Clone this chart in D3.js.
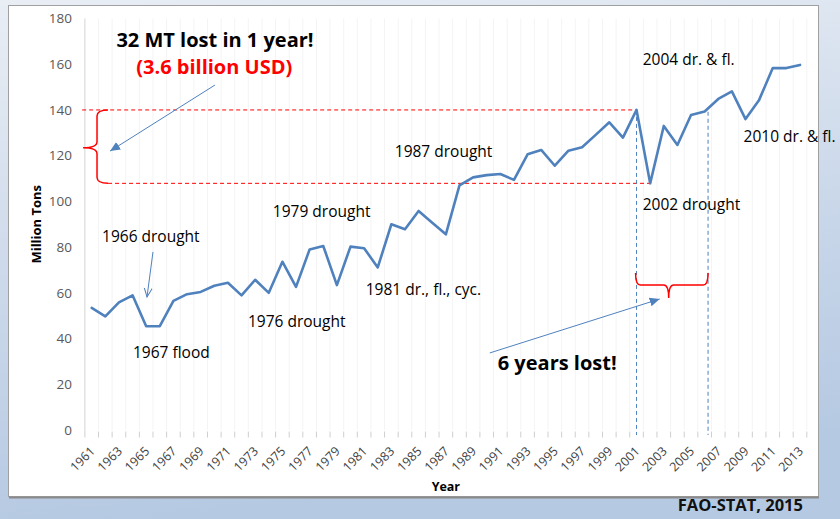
<!DOCTYPE html>
<html>
<head>
<meta charset="utf-8">
<script src="https://cdn.jsdelivr.net/npm/d3@7"></script>
<style>
  body { margin: 0; }
  svg { display: block; font-family: "Open Sans", sans-serif; }
</style>
</head>
<body>
<script>
/* DATA */
var years = d3.range(1961, 2014);
var production = [
  53.4, 49.7, 55.8, 58.9, 45.4, 45.4, 56.5, 59.4, 60.4, 63.1,
  64.4, 58.9, 65.7, 60.0, 73.6, 62.6, 79.0, 80.5, 63.4, 80.2,
  79.5, 71.1, 90.0, 87.8, 95.8, 90.7, 85.6, 107.0, 110.5, 111.5,
  112.0, 109.4, 120.6, 122.5, 115.6, 122.2, 123.7, 129.1, 134.6, 127.9,
  140.0, 107.9, 133.0, 124.7, 137.8, 139.3, 144.8, 148.1, 136.0, 144.4,
  158.3, 158.3, 159.7
];
var yTicks  = [0, 20, 40, 60, 80, 100, 120, 140, 160, 180];
var xLabels = years.filter(function(d, i){ return i % 2 === 0; });

var eventNotes = [
  { text: '1966 drought',        year: 1961.76, value: 82.2 },
  { text: '1967 flood',          year: 1964.03, value: 31.5 },
  { text: '1976 drought',        year: 1972.47, value: 45.1 },
  { text: '1979 drought',        year: 1974.30, value: 93.2 },
  { text: '1981 dr., fl., cyc.', year: 1981.12, value: 59.1 },
  { text: '1987 drought',        year: 1983.25, value: 119.4 },
  { text: '2002 drought',        year: 2001.45, value: 96.2 },
  { text: '2004 dr. & fl.',      year: 2001.45, value: 159.7 },
  { text: '2010 dr. & fl.',      year: 2008.86, value: 126.0 }
];
var lossYear     = 2001,
    dropYear     = 2002,
    recoverYear  = 2006.25,
    recoverValue = 139.2;

/* SIZES */
var w = 840, h = 519;
var c = colors = {
  line:  '#4f81bd',
  red:   '#ff0000',
  text:  '#000',
  tick:  '#595959',
  axis:  '#d9d9d9',
  grid:  '#f4f4f4'
};

var x = d3.scaleLinear().domain([1961, 2013]).range([91.7, 800]);
var y = d3.scaleLinear().domain([0, 180]).range([430, 18.5]);

var svg = d3.select('body').append('svg')
  .attr('width', w)
  .attr('height', h);

/* BACKDROP */
var defs = svg.append('defs');
var bg = defs.append('linearGradient')
  .attr('id', 'bg')
  .attr('x1', 0).attr('y1', 0).attr('x2', 0.2).attr('y2', 1);
bg.append('stop').attr('offset', 0).attr('stop-color', '#e9eef5');
bg.append('stop').attr('offset', 0.6).attr('stop-color', '#c8d6e9');
bg.append('stop').attr('offset', 1).attr('stop-color', '#b5c9e2');

defs.append('marker')
  .attr('id', 'head')
  .attr('markerUnits', 'userSpaceOnUse')
  .attr('markerWidth', 12).attr('markerHeight', 12)
  .attr('viewBox', '0 -6 12 12')
  .attr('refX', 10).attr('refY', 0)
  .attr('orient', 'auto')
  .append('path')
    .attr('d', 'M0,-4.5L10,0L0,4.5Z')
    .attr('fill', c.line);

defs.append('marker')
  .attr('id', 'openhead')
  .attr('markerUnits', 'userSpaceOnUse')
  .attr('markerWidth', 12).attr('markerHeight', 12)
  .attr('viewBox', '0 -6 12 12')
  .attr('refX', 9).attr('refY', 0)
  .attr('orient', 'auto')
  .append('path')
    .attr('d', 'M0,-4L9,0L0,4')
    .attr('fill', 'none')
    .attr('stroke', c.line)
    .attr('stroke-width', 1);

svg.append('rect')
  .attr('width', w).attr('height', h)
  .attr('fill', 'url(#bg)');

// white slide box with a grey edge
svg.append('rect')
  .attr('x', 8.5).attr('y', 5.5)
  .attr('width', 810).attr('height', 491)
  .attr('fill', '#fff')
  .attr('stroke', '#a0a0a0');
svg.append('line')
  .attr('x1', 9).attr('x2', 819)
  .attr('y1', 497.5).attr('y2', 497.5)
  .attr('stroke', '#8a8a8a').attr('stroke-width', 2);

/* GRID + AXES */
var bounds = years.concat([2014]).map(function(d){ return d - 0.5; });

svg.append('g').selectAll('line')
  .data(bounds)
  .enter().append('line')
    .attr('x1', function(d){ return x(d); })
    .attr('x2', function(d){ return x(d); })
    .attr('y1', y(180)).attr('y2', y(0))
    .attr('stroke', c.grid);

svg.append('g').selectAll('line')
  .data(bounds)
  .enter().append('line')
    .attr('x1', function(d){ return x(d); })
    .attr('x2', function(d){ return x(d); })
    .attr('y1', y(0) + 1.5).attr('y2', y(0) + 7.5)
    .attr('stroke', '#cfcfcf');

svg.append('line')
  .attr('x1', x(1960.5)).attr('x2', x(1960.5))
  .attr('y1', y(180)).attr('y2', y(0) + 2)
  .attr('stroke', c.axis);

var yAxis = d3.axisLeft(y).tickValues(yTicks).tickSize(0).tickPadding(0);
svg.append('g')
  .attr('transform', 'translate(72,0)')
  .call(yAxis)
  .call(function(g){ g.select('.domain').remove(); })
  .selectAll('text')
    .attr('fill', c.tick)
    .attr('font-size', '13.5px')
    .attr('font-family', '"Open Sans", sans-serif');

svg.append('g').selectAll('text')
  .data(xLabels)
  .enter().append('text')
    .attr('transform', function(d){
      return 'translate(' + (x(d) + 4) + ',' + (y(0) + 22) + ') rotate(-45)';
    })
    .attr('text-anchor', 'end')
    .attr('font-size', '12.5px')
    .attr('fill', '#3f3f3f')
    .text(function(d){ return d; });

svg.append('text')
  .attr('transform', 'translate(41,' + y(90) + ') rotate(-90)')
  .attr('text-anchor', 'middle')
  .attr('font-size', '13px')
  .attr('font-weight', 'bold')
  .text('Million Tons');

svg.append('text')
  .attr('x', x(1987)).attr('y', 491)
  .attr('text-anchor', 'middle')
  .attr('font-size', '12.5px')
  .attr('font-weight', 'bold')
  .text('Year');

/* GUIDES */
svg.append('line')
  .attr('x1', x(1960.3)).attr('x2', x(lossYear))
  .attr('y1', y(production[lossYear - 1961])).attr('y2', y(production[lossYear - 1961]))
  .attr('stroke', c.red).attr('stroke-dasharray', '4,3');
svg.append('line')
  .attr('x1', x(1962.2)).attr('x2', x(dropYear))
  .attr('y1', y(production[dropYear - 1961])).attr('y2', y(production[dropYear - 1961]))
  .attr('stroke', c.red).attr('stroke-dasharray', '4,3');

svg.append('line')
  .attr('x1', x(lossYear)).attr('x2', x(lossYear))
  .attr('y1', y(production[lossYear - 1961])).attr('y2', y(0) + 5)
  .attr('stroke', c.line).attr('stroke-dasharray', '4,3');
svg.append('line')
  .attr('x1', x(recoverYear)).attr('x2', x(recoverYear))
  .attr('y1', y(recoverValue)).attr('y2', y(0) + 5)
  .attr('stroke', c.line).attr('stroke-dasharray', '4,3');

// curly braces
var braceV = function(xs, xt, xp, y0, y1, ym){
  var p = d3.path(), r = 6;
  p.moveTo(xt, y0);
  p.quadraticCurveTo(xs, y0, xs, y0 + r);
  p.lineTo(xs, ym - r);
  p.quadraticCurveTo(xs, ym, xp, ym);
  p.quadraticCurveTo(xs, ym, xs, ym + r);
  p.lineTo(xs, y1 - r);
  p.quadraticCurveTo(xs, y1, xt, y1);
  return p.toString();
};
var braceH = function(ys, yt, yp, x0, x1, xm){
  var p = d3.path(), r = 5;
  p.moveTo(x0, yt);
  p.quadraticCurveTo(x0, ys, x0 + r, ys);
  p.lineTo(xm - r, ys);
  p.quadraticCurveTo(xm, ys, xm, yp);
  p.quadraticCurveTo(xm, ys, xm + r, ys);
  p.lineTo(x1 - r, ys);
  p.quadraticCurveTo(x1, ys, x1, yt);
  return p.toString();
};

svg.append('path')
  .attr('d', braceV(x(1961.39), x(1962.2), x(1960.37),
                    y(production[lossYear - 1961]), y(production[dropYear - 1961]), y(123.5)))
  .attr('fill', 'none').attr('stroke', c.red).attr('stroke-width', 1.5);

svg.append('path')
  .attr('d', braceH(y(63.4), y(68.7), y(57.7), x(lossYear) - 1, x(recoverYear), x(2003.36)))
  .attr('fill', 'none').attr('stroke', c.red).attr('stroke-width', 1.5);

/* SERIES */
var line = d3.line()
  .x(function(d, i){ return x(years[i]); })
  .y(function(d){ return y(d); });

svg.append('path')
  .datum(production)
  .attr('d', line)
  .attr('fill', 'none')
  .attr('stroke', c.line)
  .attr('stroke-width', 2.6)
  .attr('stroke-linejoin', 'round')
  .attr('stroke-linecap', 'round');

/* NOTES */
svg.append('g').selectAll('text')
  .data(eventNotes)
  .enter().append('text')
    .attr('x', function(d){ return x(d.year); })
    .attr('y', function(d){ return y(d.value); })
    .attr('font-size', '15.5px')
    .attr('fill', c.text)
    .text(function(d){ return d.text; });

svg.append('text')
  .attr('x', x(1970.05)).attr('y', y(167.5))
  .attr('text-anchor', 'middle')
  .attr('font-size', '20px').attr('font-weight', 'bold')
  .text('32 MT lost in 1 year!');
svg.append('text')
  .attr('x', x(1970.0)).attr('y', y(155.7))
  .attr('text-anchor', 'middle')
  .attr('font-size', '20px').attr('font-weight', 'bold')
  .attr('fill', c.red)
  .text('(3.6 billion USD)');
svg.append('text')
  .attr('x', x(1990.81)).attr('y', y(26.2))
  .attr('font-size', '20px').attr('font-weight', 'bold')
  .text('6 years lost!');

var arrow = function(x1, y1, x2, y2, head){
  svg.append('line')
    .attr('x1', x(x1)).attr('y1', y(y1))
    .attr('x2', x(x2)).attr('y2', y(y2))
    .attr('stroke', c.line).attr('stroke-width', 1)
    .attr('marker-end', 'url(#' + head + ')');
};
arrow(1970.05, 150.9, 1962.35, 122.0, 'head');
arrow(1965.5, 77.9, 1965.06, 58.2, 'openhead');
arrow(1990.22, 33.7, 2002.7, 57.3, 'head');

svg.append('text')
  .attr('x', 803).attr('y', 511)
  .attr('text-anchor', 'end')
  .attr('font-size', '16.5px').attr('font-weight', 'bold')
  .attr('fill', '#111')
  .text('FAO-STAT, 2015');
</script>
</body>
</html>
